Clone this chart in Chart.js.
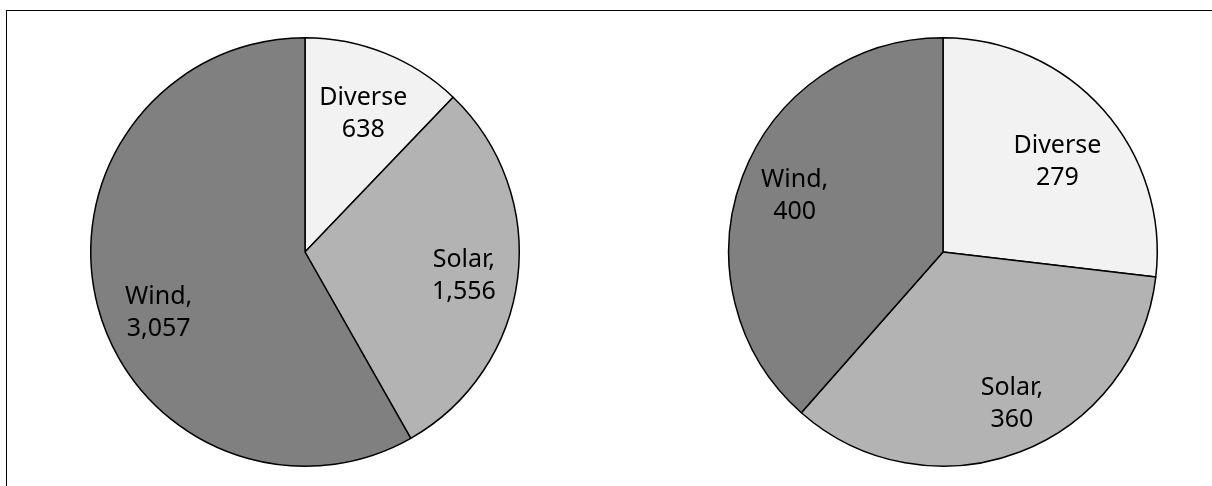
<!DOCTYPE html>
<html>
<head>
<meta charset="utf-8">
<script src="https://cdn.jsdelivr.net/npm/chart.js@4"></script>
<style>
  html, body { margin: 0; padding: 0; background: #fff; }
  body { width: 1212px; height: 486px; position: relative; overflow: hidden; }
  #frame { position: absolute; left: 6px; top: 10px; right: 0; bottom: 0;
           border-top: 1px solid #000; border-left: 1px solid #000; }
  .pie { position: absolute; top: 32px; width: 440px; height: 440px; }
  #left { left: 85px; }
  #right { left: 723px; }
</style>
</head>
<body>
<div id="frame"></div>
<div class="pie" id="left"><canvas id="leftChart"></canvas></div>
<div class="pie" id="right"><canvas id="rightChart"></canvas></div>
<script>
const categories = ['Diverse', 'Solar', 'Wind'];
const labelHeads = ['Diverse', 'Solar,', 'Wind,'];
const leftValues = [638, 1556, 3057];
const rightValues = [279, 360, 400];
const sliceColors = ['#f2f2f2', '#b3b3b3', '#808080'];

// Two-line labels inside each slice. Each slice gets [radius fraction, degrees off the middle angle].
const sliceLabels = {
  id: 'sliceLabels',
  afterDatasetsDraw(chart, args, opts) {
    const { ctx } = chart;
    const meta = chart.getDatasetMeta(0);
    const values = chart.data.datasets[0].data;
    ctx.save();
    ctx.font = '25px "Noto Sans", sans-serif';
    ctx.fillStyle = '#000';
    ctx.textAlign = 'center';
    ctx.textBaseline = 'middle';
    meta.data.forEach((arc, i) => {
      const { x, y, startAngle, endAngle, outerRadius } = arc.getProps(
        ['x', 'y', 'startAngle', 'endAngle', 'outerRadius'], true);
      const [fraction, shift] = opts.placement[i];
      const angle = (startAngle + endAngle) / 2 + shift * Math.PI / 180;
      const r = outerRadius * fraction;
      const cx = x + Math.cos(angle) * r;
      const cy = y + Math.sin(angle) * r;
      ctx.fillText(labelHeads[i], cx, cy - 16);
      ctx.fillText(values[i].toLocaleString('en-US'), cx, cy + 16);
    });
    ctx.restore();
  },
};

function buildPieConfig(values, placement) {
  return {
    type: 'pie',
    data: {
      labels: categories,
      datasets: [{
        data: values,
        backgroundColor: sliceColors,
        borderColor: '#000',
        borderWidth: 1.5,
      }],
    },
    options: {
      responsive: true,
      maintainAspectRatio: false,
      animation: false,
      layout: { padding: 5 },
      plugins: {
        legend: { display: false },
        tooltip: { enabled: false },
        sliceLabels: { placement },
      },
    },
    plugins: [sliceLabels],
  };
}

new Chart(document.getElementById('leftChart'),
  buildPieConfig(leftValues, [[0.70, 1], [0.75, 1.6], [0.74, -7.8]]));
new Chart(document.getElementById('rightChart'),
  buildPieConfig(rightValues, [[0.68, 3.4], [0.78, -3.4], [0.74, 0]]));
</script>
</body>
</html>
